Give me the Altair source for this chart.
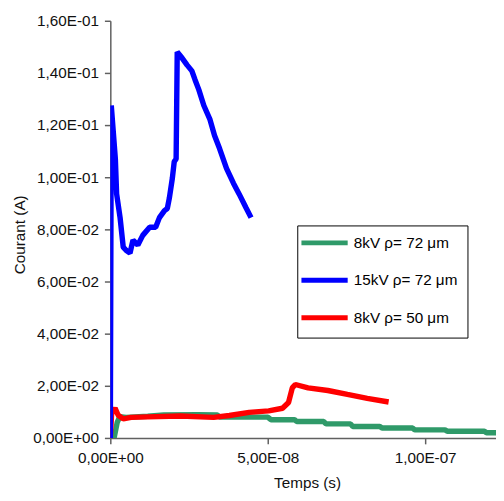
import altair as alt
import pandas as pd

# ---- data (time in ns, current in A) ----
series_names = ["8kV ρ= 72 μm", "15kV ρ= 72 μm", "8kV ρ= 50 μm"]
series_colors = ["#2f9a69", "#0000ff", "#ff0000"]

green_t = [0.0, 1.2, 2.2, 3.0, 5.0, 11.9, 17.0, 27.5, 34.0, 34.7, 50.0, 51.0, 58.5, 59.2,
           67.8, 68.5, 76.3, 77.0, 85.6, 86.3, 96.0, 96.7, 106.3, 107.0, 118.8, 119.5, 122.5]
green_i = [0.0, 0.0, 0.0060, 0.0082, 0.0079, 0.0083, 0.0088, 0.0089, 0.0088, 0.0080, 0.0080,
           0.0070, 0.0070, 0.0063, 0.0063, 0.0054, 0.0054, 0.0044, 0.0044, 0.0038, 0.0038,
           0.0031, 0.0031, 0.0026, 0.0026, 0.0020, 0.0020]

blue_t = [0.0, 0.3, 1.6, 2.0, 3.1, 4.1, 5.0, 6.25, 7.2, 8.75, 10.3, 12.5, 14.4, 15.6, 17.2,
          18.1, 18.75, 19.7, 20.3, 20.9, 21.25, 22.8, 24.4, 25.9, 26.9, 28.1, 29.7, 31.6,
          33.1, 34.7, 36.9, 39.1, 40.9, 43.1, 44.7]
blue_i = [0.0, 0.1275, 0.1070, 0.0936, 0.0845, 0.0732, 0.0720, 0.0709, 0.0759, 0.0740, 0.0777,
          0.0808, 0.0808, 0.0845, 0.0872, 0.0880, 0.0920, 0.0996, 0.1060, 0.1070, 0.1480,
          0.1457, 0.1430, 0.1408, 0.1374, 0.1336, 0.1275, 0.1223, 0.1160, 0.1110, 0.1034,
          0.0977, 0.0936, 0.0883, 0.0845]

red_t = [0.0, 0.4, 1.5, 2.5, 4.1, 6.6, 11.9, 22.2, 32.8, 37.8, 44.1, 50.3, 54.7, 56.6, 57.8,
         58.75, 62.8, 69.1, 75.3, 81.6, 88.4]
red_i = [0.0, 0.0092, 0.0114, 0.0087, 0.0073, 0.0079, 0.0081, 0.0084, 0.0079, 0.0086, 0.0098,
         0.0104, 0.0114, 0.0136, 0.0192, 0.0205, 0.0192, 0.0182, 0.0167, 0.0152, 0.0138]

x_ticks = [0.0, 5e-08, 1e-07]
x_labels = ["0,00E+00", "5,00E-08", "1,00E-07"]
y_ticks = [0.0, 0.02, 0.04, 0.06, 0.08, 0.10, 0.12, 0.14, 0.16]
y_labels = ["0,00E+00", "2,00E-02", "4,00E-02", "6,00E-02", "8,00E-02",
            "1,00E-01", "1,20E-01", "1,40E-01", "1,60E-01"]

# ---- build table ----
rows = []
for name, ts, cs in zip(series_names, [green_t, blue_t, red_t], [green_i, blue_i, red_i]):
    for k, (t, c) in enumerate(zip(ts, cs)):
        rows.append({"serie": name, "t": t * 1e-9, "i": c, "k": k})
df = pd.DataFrame(rows)


def label_expr(ticks, labels):
    parts = [f"abs(datum.value - ({v})) < 1e-12 ? '{l}'" for v, l in zip(ticks, labels)]
    return " : ".join(parts) + " : ''"


FONT = "Liberation Sans"

x_enc = alt.X("t:Q", scale=alt.Scale(domain=[0, 1.225e-07], nice=False, zero=False),
              axis=alt.Axis(values=x_ticks, labelExpr=label_expr(x_ticks, x_labels),
                            title="Temps (s)", grid=False, tickSize=6, labelPadding=7,
                            titleX=200, titleY=45, titleBaseline="middle",
                            titleAnchor="middle", labelFlush=False))
y_enc = alt.Y("i:Q", scale=alt.Scale(domain=[0, 0.16], nice=False),
              axis=alt.Axis(values=y_ticks, labelExpr=label_expr(y_ticks, y_labels),
                            title="Courant (A)", grid=False, tickSize=6, labelPadding=6,
                            titleX=-92, titleY=217, titleAngle=-90,
                            titleBaseline="middle", titleAlign="center"))
color_enc = alt.Color("serie:N",
                      scale=alt.Scale(domain=series_names, range=series_colors),
                      legend=alt.Legend(orient="none", legendX=190, legendY=208, title=None,
                                        symbolType="M-2.7,0H6.7", symbolSize=100,
                                        symbolStrokeWidth=5, labelOffset=32, padding=10,
                                        rowPadding=17, strokeColor="black", fillColor="white",
                                        labelFont=FONT, labelFontSize=15.5, labelColor="black",
                                        labelLimit=300))

base = alt.Chart(df)
layers = []
for name in [series_names[0], series_names[2], series_names[1]]:
    layers.append(
        base.transform_filter(alt.datum.serie == name)
        .mark_line(strokeWidth=5.5, strokeJoin="bevel", clip=True)
        .encode(x=x_enc, y=y_enc, color=color_enc, order="k:Q")
    )

chart = alt.layer(*layers).properties(
    width=392, height=424,
    autosize=alt.AutoSizeParams(type="none"),
    padding={"left": 104, "top": 9, "right": 0, "bottom": 55},
).configure_view(stroke=None).configure_axis(
    labelFont=FONT, labelFontSize=15.5, labelColor="#111",
    titleFont=FONT, titleFontSize=15.5, titleColor="#111", titleFontWeight="normal",
    domainColor="#606060", domainWidth=1.5, tickColor="#606060", tickWidth=1.5,
)

chart.save("out.html", embed_options={"renderer": "svg", "actions": False})
